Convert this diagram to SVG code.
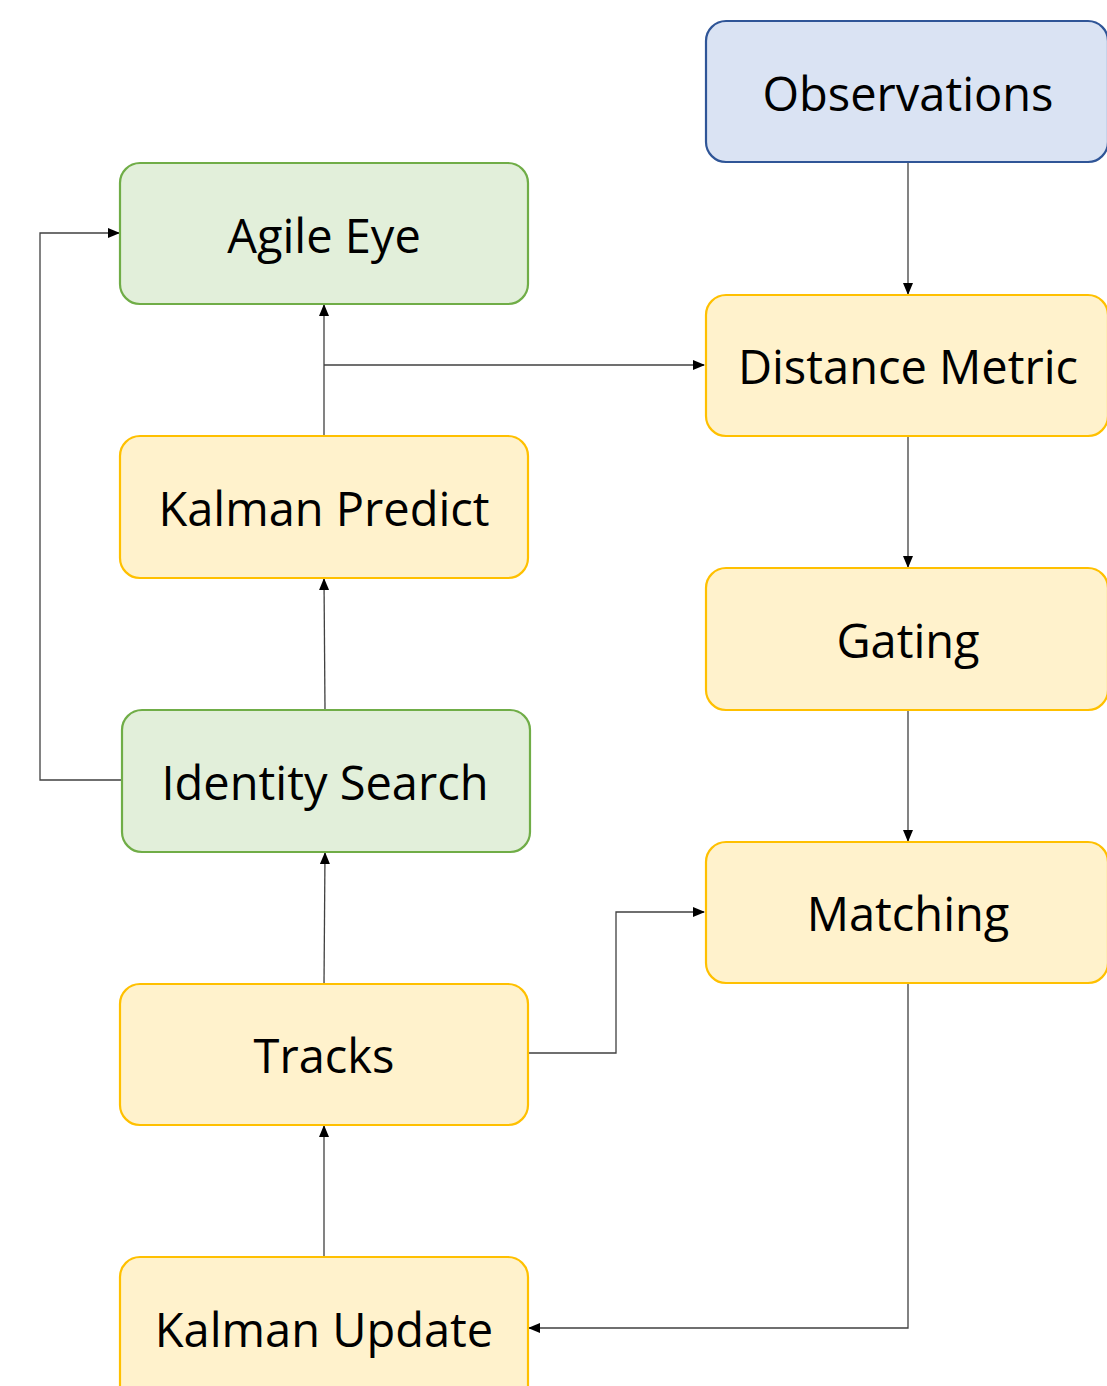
<svg xmlns="http://www.w3.org/2000/svg" width="1107" height="1386" viewBox="0 0 1107 1386">
<defs>
<marker id="arr" markerWidth="12" markerHeight="12" refX="11" refY="6" orient="auto" markerUnits="userSpaceOnUse">
<path d="M0,1 L12,6 L0,11 Z" fill="#000"/>
</marker>
</defs>
<style>
.y{fill:#FFF2CC;stroke:#FFC000;stroke-width:2.2}
.g{fill:#E2EFDA;stroke:#70AD47;stroke-width:2.2}
.b{fill:#DAE3F3;stroke:#2F5597;stroke-width:2.2}
.t{font-family:"Open Sans","Noto Sans",sans-serif;font-size:47px;fill:#000;text-anchor:middle;dominant-baseline:central}
.c{fill:none;stroke:#404040;stroke-width:1.3;marker-end:url(#arr)}
</style>
<rect width="1107" height="1386" fill="#fff"/>
<g id="connectors">
<path class="c" d="M908,163 V294"/>
<path class="c" d="M324,436 V305"/>
<path class="c" d="M324,365 H704"/>
<path class="c" d="M908,437 V567"/>
<path class="c" d="M908,710 V841"/>
<path class="c" d="M325,710 L324,579"/>
<path class="c" d="M122,780 H40 V233 H119"/>
<path class="c" d="M324,984 L325,853"/>
<path class="c" d="M528,1053 H616 V912 H704"/>
<path class="c" d="M324,1257 V1126"/>
<path class="c" d="M908,984 V1328 H529"/>
</g>
<g id="observations"><rect class="b" x="706" y="21" width="402" height="141" rx="20"/><text class="t" x="908" y="93">Observations</text></g>
<g id="agile-eye"><rect class="g" x="120" y="163" width="408" height="141" rx="20"/><text class="t" x="324" y="235">Agile Eye</text></g>
<g id="distance-metric"><rect class="y" x="706" y="295" width="402" height="141" rx="20"/><text class="t" x="908" y="366">Distance Metric</text></g>
<g id="kalman-predict"><rect class="y" x="120" y="436" width="408" height="142" rx="20"/><text class="t" x="324" y="508">Kalman Predict</text></g>
<g id="gating"><rect class="y" x="706" y="568" width="402" height="142" rx="20"/><text class="t" x="908" y="640">Gating</text></g>
<g id="identity-search"><rect class="g" x="122" y="710" width="408" height="142" rx="20"/><text class="t" x="325" y="782">Identity Search</text></g>
<g id="matching"><rect class="y" x="706" y="842" width="402" height="141" rx="20"/><text class="t" x="908" y="913">Matching</text></g>
<g id="tracks"><rect class="y" x="120" y="984" width="408" height="141" rx="20"/><text class="t" x="324" y="1055">Tracks</text></g>
<g id="kalman-update"><rect class="y" x="120" y="1257" width="408" height="150" rx="20"/><text class="t" x="324" y="1329">Kalman Update</text></g>
</svg>
